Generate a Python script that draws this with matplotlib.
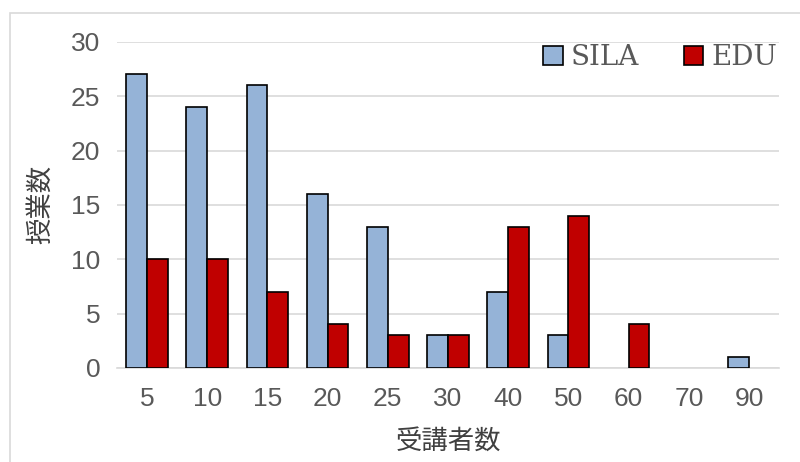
import numpy as np
import matplotlib
matplotlib.use('Agg')
import matplotlib.pyplot as plt
from matplotlib.patches import Rectangle

# データ
categories = ['5', '10', '15', '20', '25', '30', '40', '50', '60', '70', '90']
sila = [27, 24, 26, 16, 13, 3, 7, 3, 0, 0, 1]
edu = [10, 10, 7, 4, 3, 3, 13, 14, 4, 0, 0]

plt.rcParams['font.family'] = ['Liberation Sans Narrow', 'Liberation Sans', 'DejaVu Sans']

fig = plt.figure(figsize=(8, 4.62), dpi=100)
ax = fig.add_axes([0.146, 0.2035, 0.828, 0.706])

# 外枠
fig.patches.append(Rectangle((10 / 800, -0.1), 1.0, 1 - 13 / 462 + 0.1,
                             transform=fig.transFigure, fill=False,
                             edgecolor='#d9d9d9', linewidth=1.2))

x = np.arange(len(categories))
w = 0.345
b1 = ax.bar(x - w / 2, sila, w, color='#95b3d7', edgecolor='black', linewidth=1.2, label='SILA', zorder=3)
b2 = ax.bar(x + w / 2, edu, w, color='#c00000', edgecolor='black', linewidth=1.2, label='EDU', zorder=3)
# 0の棒は描かない
for bars, vals in [(b1, sila), (b2, edu)]:
    for p, v in zip(bars, vals):
        if v == 0:
            p.set_visible(False)

ax.set_xlim(-0.5, len(categories) - 0.5)
ax.set_ylim(0, 30)
ax.set_yticks(range(0, 31, 5))
ax.set_xticks(x)
ax.set_xticklabels(categories)
ax.grid(axis='y', color='#d9d9d9', linewidth=1.2, zorder=0)
for s in ['top', 'right', 'left']:
    ax.spines[s].set_visible(False)
ax.spines['bottom'].set_color('#d9d9d9')
ax.spines['bottom'].set_linewidth(1.2)
ax.tick_params(axis='both', length=0, labelsize=19, colors='#595959', pad=12)
ax.tick_params(axis='x', pad=14)

jp = ['Noto Sans CJK JP', 'DejaVu Sans']
ax.set_ylabel('授業数', fontsize=19, family=jp, color='#404040', labelpad=12)
ax.set_xlabel('受講者数', fontsize=19, family=jp, color='#404040', labelpad=12)

leg = ax.legend(loc='upper right', bbox_to_anchor=(1.035, 1.07), ncol=2, frameon=False,
                prop={'family': ['DejaVu Serif'], 'size': 20},
                handlelength=0.7, handleheight=0.7, handletextpad=0.3, columnspacing=1.6)
for t in leg.get_texts():
    t.set_color('#595959')

fig.savefig('out.png', dpi=100)
